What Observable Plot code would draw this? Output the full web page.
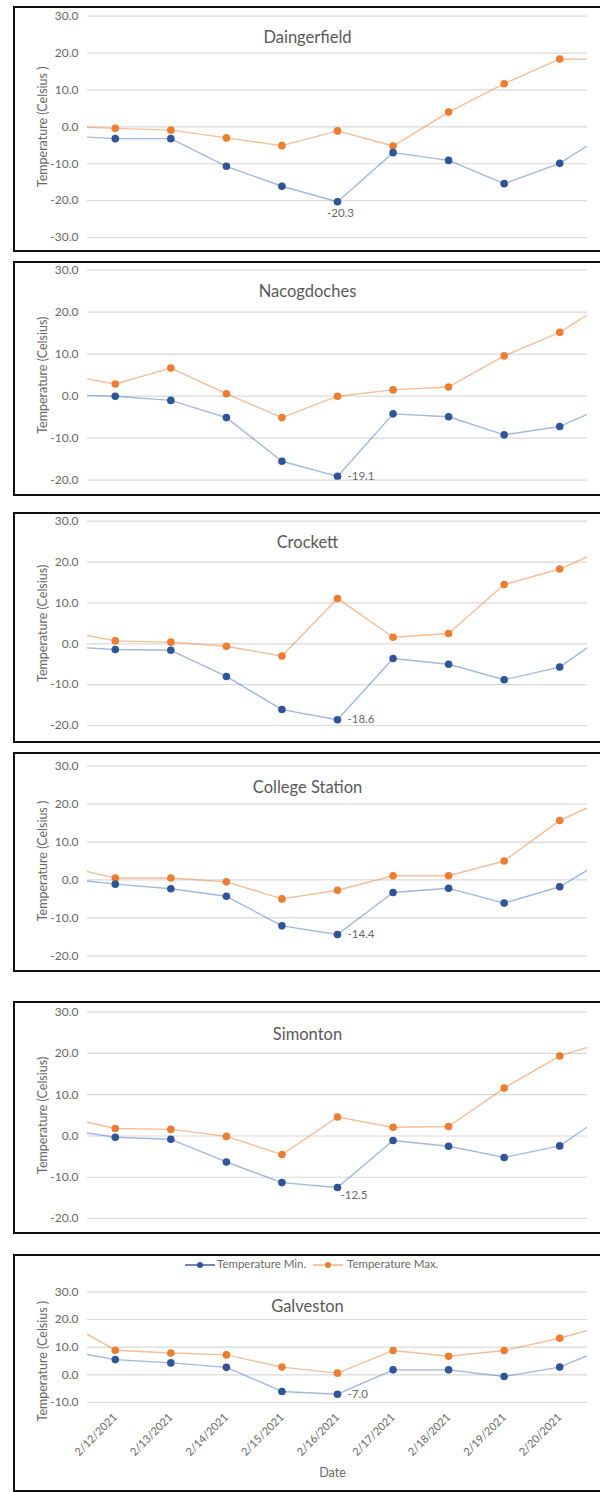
<!DOCTYPE html>
<html>
<head>
<meta charset="utf-8">
<script src="https://cdn.jsdelivr.net/npm/d3@7"></script>
<script src="https://cdn.jsdelivr.net/npm/@observablehq/plot@0.6"></script>
<style>
  html, body { margin: 0; padding: 0; background: #fff; }
  #page { position: relative; width: 600px; height: 1492px; overflow: hidden; font-family: Lato, "Open Sans", sans-serif; }
  .box { position: absolute; left: 13px; width: 589px; border: 2px solid #111; box-sizing: border-box; }
  .panel { position: absolute; left: 0; }
  .legend { position: absolute; top: 1257px; left: 0; width: 600px; height: 16px; font-size: 11.5px; color: #6a6a6a; }
  .legend span { position: absolute; top: 0; white-space: nowrap; }
</style>
</head>
<body>
<div id="page"></div>
<script>
// ---------- data ----------
const dates = ["2/11/2021","2/12/2021","2/13/2021","2/14/2021","2/15/2021","2/16/2021","2/17/2021","2/18/2021","2/19/2021","2/20/2021","2/21/2021"];
const cities = ["Daingerfield","Nacogdoches","Crockett","College Station","Simonton","Galveston"];
const seriesNames = ["Temperature Min.","Temperature Max."];

const daingerfieldMin   = [-2.4, -3.2, -3.2, -10.7, -16.1, -20.3, -7.0, -9.1, -15.4, -9.9, -0.3];
const daingerfieldMax   = [0.2, -0.4, -0.9, -3.0, -5.1, -1.1, -5.2, 4.0, 11.7, 18.4, 18.3];
const nacogdochesMin    = [0.4, 0.0, -1.0, -5.1, -15.5, -19.1, -4.2, -4.9, -9.2, -7.2, -1.4];
const nacogdochesMax    = [5.3, 2.9, 6.7, 0.6, -5.1, 0.0, 1.5, 2.2, 9.6, 15.2, 23.6];
const crockettMin       = [-0.6, -1.4, -1.6, -8.0, -16.1, -18.6, -3.6, -5.0, -8.8, -5.7, 3.9];
const crockettMax       = [3.3, 0.7, 0.4, -0.6, -3.0, 11.1, 1.6, 2.5, 14.5, 18.3, 24.3];
const collegeStationMin = [0.5, -1.1, -2.3, -4.3, -12.1, -14.4, -3.3, -2.2, -6.1, -1.8, 7.0];
const collegeStationMax = [3.9, 0.5, 0.5, -0.5, -5.0, -2.7, 1.1, 1.1, 5.0, 15.7, 22.3];
const simontonMin       = [1.7, -0.3, -0.8, -6.3, -11.3, -12.5, -1.1, -2.5, -5.2, -2.4, 6.8];
const simontonMax       = [4.8, 1.8, 1.6, -0.1, -4.5, 4.6, 2.1, 2.3, 11.6, 19.4, 23.6];
const galvestonMin      = [9.1, 5.5, 4.3, 2.7, -6.0, -7.0, 1.8, 1.8, -0.6, 2.8, 11.2];
const galvestonMax      = [20.3, 8.9, 7.9, 7.2, 2.8, 0.6, 8.8, 6.7, 8.8, 13.2, 19.0];

const yTicksA = [-30, -20, -10, 0, 10, 20, 30];
const yTicksB = [-20, -10, 0, 10, 20, 30];
const yTicksC = [-10, 0, 10, 20, 30];
const yLabelSpaced = "Temperature (Celsius )";
const yLabelPlain  = "Temperature (Celsius)";
const xTitle = "Date";

// ---------- layout ----------
const panels = [
  {title: cities[0], min: daingerfieldMin,   max: daingerfieldMax,   ticks: yTicksA, yl: yLabelSpaced, top: 6,    bottom: 251,  pTop: 15.7,   pBot: 237,    titleY: 37.3,   lab: {dx: 3, dy: 12, anchor: "middle"}},
  {title: cities[1], min: nacogdochesMin,    max: nacogdochesMax,    ticks: yTicksB, yl: yLabelPlain,  top: 261,  bottom: 495,  pTop: 269.7,  pBot: 479.7,  titleY: 291.7,  lab: {dx: 10, dy: 0, anchor: "start"}},
  {title: cities[2], min: crockettMin,       max: crockettMax,       ticks: yTicksB, yl: yLabelPlain,  top: 512,  bottom: 742,  pTop: 520.7,  pBot: 725,    titleY: 542.7,  lab: {dx: 10, dy: 0, anchor: "start"}},
  {title: cities[3], min: collegeStationMin, max: collegeStationMax, ticks: yTicksB, yl: yLabelSpaced, top: 752,  bottom: 971,  pTop: 765.7,  pBot: 955.3,  titleY: 787.7,  lab: {dx: 10, dy: 0, anchor: "start"}},
  {title: cities[4], min: simontonMin,       max: simontonMax,       ticks: yTicksB, yl: yLabelPlain,  top: 1001, bottom: 1233, pTop: 1011.7, pBot: 1218,   titleY: 1034,   lab: {dx: 3, dy: 8, anchor: "start"}},
  {title: cities[5], min: galvestonMin,      max: galvestonMax,      ticks: yTicksC, yl: yLabelSpaced, top: 1254, bottom: 1491, pTop: 1291.3, pBot: 1402,   titleY: 1306.7, lab: {dx: 10, dy: 0, anchor: "start"}, last: true}
];

const BLUE_DOT = "#2f5597", BLUE_LINE = "#4472c4";
const ORANGE_DOT = "#ed7d31", ORANGE_LINE = "#ed7d31";
const GRAY = "#686868";
const page = document.getElementById("page");

panels.forEach(p => {
  const box = document.createElement("div");
  box.className = "box";
  box.style.top = p.top + "px";
  box.style.height = (p.bottom - p.top + 1) + "px";
  page.appendChild(box);

  const rows = [];
  dates.forEach((d, i) => {
    rows.push({i, v: p.min[i], s: seriesNames[0]});
    rows.push({i, v: p.max[i], s: seriesNames[1]});
  });
  const minRows = rows.filter(r => r.s === seriesNames[0]);
  const maxRows = rows.filter(r => r.s === seriesNames[1]);
  const lowIdx = d3.minIndex(p.min.slice(1, 10)) + 1;
  const lowRow = minRows.filter(r => r.i === lowIdx);
  const big = !!p.last;

  const marks = [
    Plot.gridY(p.ticks, {stroke: "#d9d9d9", strokeOpacity: 1, strokeWidth: 1.2}),
    Plot.axisY(p.ticks, {tickSize: 0, tickPadding: 9, tickFormat: d => d.toFixed(1), label: null, fontSize: 12, fill: GRAY}),
    Plot.line(maxRows, {x: "i", y: "v", stroke: ORANGE_LINE, strokeOpacity: 0.5, strokeWidth: 1.4, clip: true}),
    Plot.line(minRows, {x: "i", y: "v", stroke: BLUE_LINE, strokeOpacity: 0.5, strokeWidth: 1.4, clip: true}),
    Plot.dot(maxRows, {x: "i", y: "v", r: 3.8, fill: ORANGE_DOT, clip: true}),
    Plot.dot(minRows, {x: "i", y: "v", r: 3.8, fill: BLUE_DOT, clip: true}),
    Plot.text(lowRow, {x: "i", y: "v", text: d => d.v.toFixed(1), dx: p.lab.dx, dy: p.lab.dy, textAnchor: p.lab.anchor, fontSize: 11.5, fill: GRAY}),
    Plot.text([p.title], {frameAnchor: "top", lineAnchor: "middle", dx: -30, dy: p.titleY - p.pTop, fontSize: 16.5, fill: "#595959"}),
    Plot.text([p.yl], {frameAnchor: "left", textAnchor: "middle", dx: -45, dy: big ? 14 : 0, rotate: -90, fontSize: 12.5, fill: GRAY})
  ];
  if (p.last) {
    marks.push(Plot.axisX(d3.range(1, 10), {tickFormat: i => dates[i], tickRotate: -45, tickSize: 0, tickPadding: 13, label: null, fontSize: 11, fill: GRAY}));
    marks.push(Plot.text([xTitle], {frameAnchor: "bottom", lineAnchor: "middle", dx: -5, dy: 1472 - p.pBot, fontSize: 12.5, fill: GRAY}));
  }

  const svg = Plot.plot({
    width: 600,
    height: p.bottom - p.top,
    marginLeft: 87,
    marginRight: 13,
    marginTop: p.pTop - p.top,
    marginBottom: p.bottom - p.pBot,
    x: {type: "linear", domain: [0.5, 9.5], axis: null},
    y: {domain: [p.ticks[0], p.ticks[p.ticks.length - 1]], axis: null},
    style: {fontFamily: "Lato, 'Open Sans', sans-serif", background: "transparent", overflow: "visible"},
    marks
  });
  svg.classList.add("panel");
  svg.style.position = "absolute";
  svg.style.top = p.top + "px";
  svg.style.left = "0px";
  page.appendChild(svg);
});

// legend (in Galveston panel)
const legend = document.createElement("div");
legend.className = "legend";
const sw = (x, color, line) => {
  const s = document.createElementNS("http://www.w3.org/2000/svg", "svg");
  s.setAttribute("width", 32); s.setAttribute("height", 14);
  s.style.position = "absolute"; s.style.left = x + "px"; s.style.top = "1px";
  s.innerHTML = `<line x1="1" x2="31" y1="7" y2="7" stroke="${line}" stroke-width="1.4"/><circle cx="16" cy="7" r="3" fill="${color}"/>`;
  return s;
};
legend.appendChild(sw(184, BLUE_DOT, "#2f5597"));
const t1 = document.createElement("span"); t1.textContent = seriesNames[0]; t1.style.left = "217px"; legend.appendChild(t1);
legend.appendChild(sw(312, ORANGE_DOT, "#f4b183"));
const t2 = document.createElement("span"); t2.textContent = seriesNames[1]; t2.style.left = "347px"; legend.appendChild(t2);
page.appendChild(legend);
</script>
</body>
</html>
